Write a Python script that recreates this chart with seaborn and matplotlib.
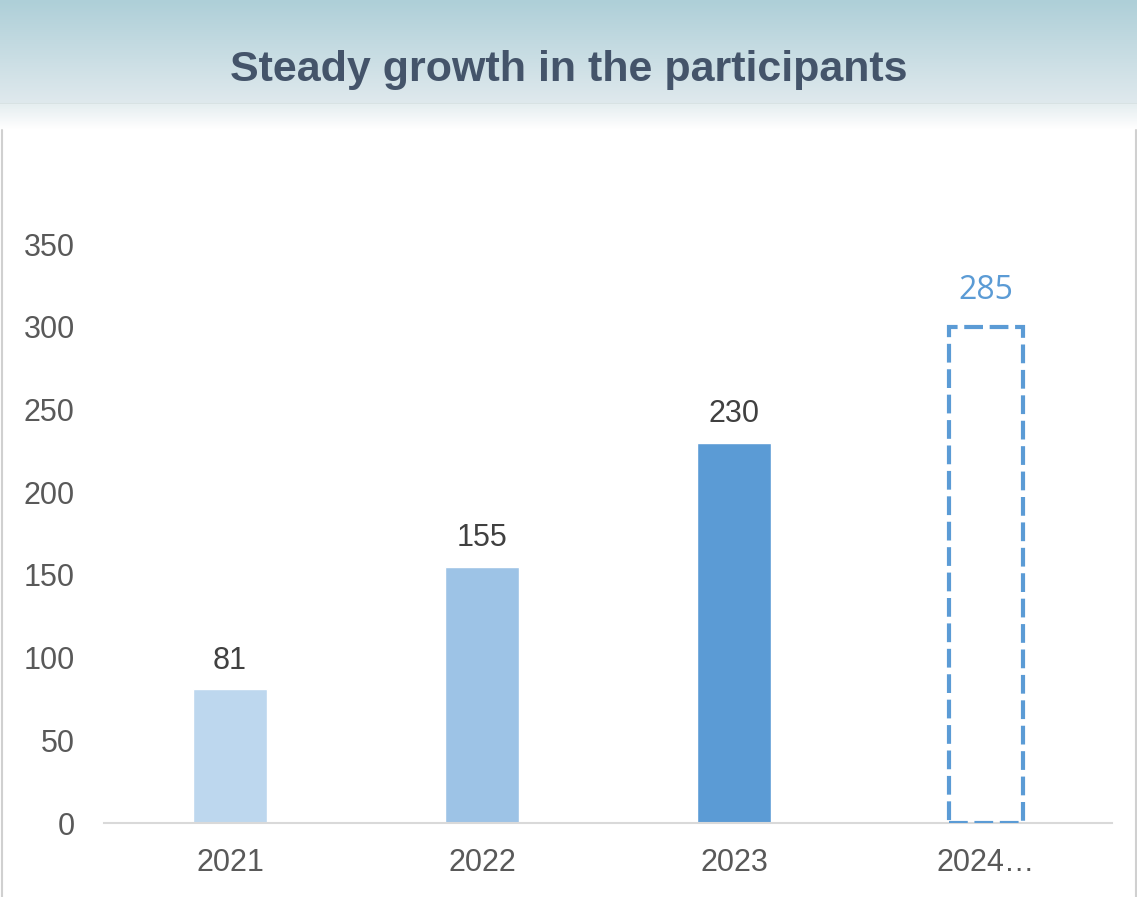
import numpy as np
import pandas as pd
import matplotlib
matplotlib.use("Agg")
import matplotlib.pyplot as plt
from matplotlib.lines import Line2D
from matplotlib.colors import LinearSegmentedColormap
import seaborn as sns

# chart data
years = ["2021", "2022", "2023", "2024…"]
participants = [81, 155, 230, 300]          # 2024 outline drawn to the 300 line
value_labels = ["81", "155", "230", "285"]
bar_colors = ["#bdd7ee", "#9dc3e6", "#5b9bd5", "#5b9bd5"]
y_ticks = [0, 50, 100, 150, 200, 250, 300, 350]

df = pd.DataFrame({"year": years, "participants": participants})

sns.set_style("white")
plt.rcParams["font.family"] = ["Liberation Sans", "DejaVu Sans"]

W, H = 1137, 897
fig = plt.figure(figsize=(W / 100, H / 100), dpi=100)

# header band with gradient
hdr = fig.add_axes([0, 1 - 130 / H, 1, 130 / H])
top_part = LinearSegmentedColormap.from_list("hdr", ["#aecfd8", "#dfe9ed"])
fade = LinearSegmentedColormap.from_list("fade", ["#e6eef0", "#ffffff"])
n1, n2 = 103, 27
grad = np.zeros((130, 1, 3))
for i in range(n1):
    grad[i, 0] = top_part(i / (n1 - 1))[:3]
grad[n1] = [0.85, 0.89, 0.89]
for j in range(n2 - 1):
    grad[n1 + 1 + j, 0] = fade(j / (n2 - 2))[:3]
hdr.imshow(grad, aspect="auto", extent=[0, 1, 0, 1], interpolation="bilinear")
hdr.set_axis_off()
hdr.text(0.5, 1 - 70 / 130, "Steady growth in the participants", ha="center", va="center",
         fontsize=31, fontweight="bold", color="#44546a")

# side borders
fig.add_artist(Line2D([2 / W, 2 / W], [0, 1 - 130 / H], color="#d0d0d0", lw=1.5))
fig.add_artist(Line2D([1135.5 / W, 1135.5 / W], [0, 1 - 130 / H], color="#d0d0d0", lw=1.5))

ax = fig.add_axes([104 / W, (H - 823) / H, (1112 - 104) / W, (823 - 244) / H])
sns.barplot(data=df, x="year", y="participants", hue="year", palette=bar_colors,
            width=0.29, legend=False, ax=ax, saturation=1)

# 2024 is a forecast: dashed outline only
fc = ax.patches[3]
fc.set_facecolor("none")
fc.set_edgecolor("#5b9bd5")
fc.set_linewidth(3)
fc.set_linestyle((0, (4.5, 1.6)))
fc.set_zorder(5)

for i, (v, lab) in enumerate(zip(participants, value_labels)):
    if i == 3:
        ax.text(i, v + 22, lab, ha="center", va="center", fontsize=23,
                color="#5b9bd5", family=["Open Sans", "DejaVu Sans"], clip_on=False)
    else:
        ax.text(i, v + 17, lab, ha="center", va="center", fontsize=22,
                color="#404040", clip_on=False)

ax.set_xlim(-0.5, 3.5)
ax.set_ylim(0, 350)
ax.set_yticks(y_ticks)
ax.set_xlabel("")
ax.set_ylabel("")
ax.tick_params(axis="both", length=0, labelsize=22, labelcolor="#595959")
ax.tick_params(axis="y", pad=21)
ax.tick_params(axis="x", pad=18)
for s in ["top", "right", "left"]:
    ax.spines[s].set_visible(False)
ax.spines["bottom"].set_color("#d9d9d9")
ax.spines["bottom"].set_linewidth(1.5)
ax.spines["bottom"].set_zorder(1)
ax.patch.set_alpha(0)

fig.savefig("out.png", dpi=100)
